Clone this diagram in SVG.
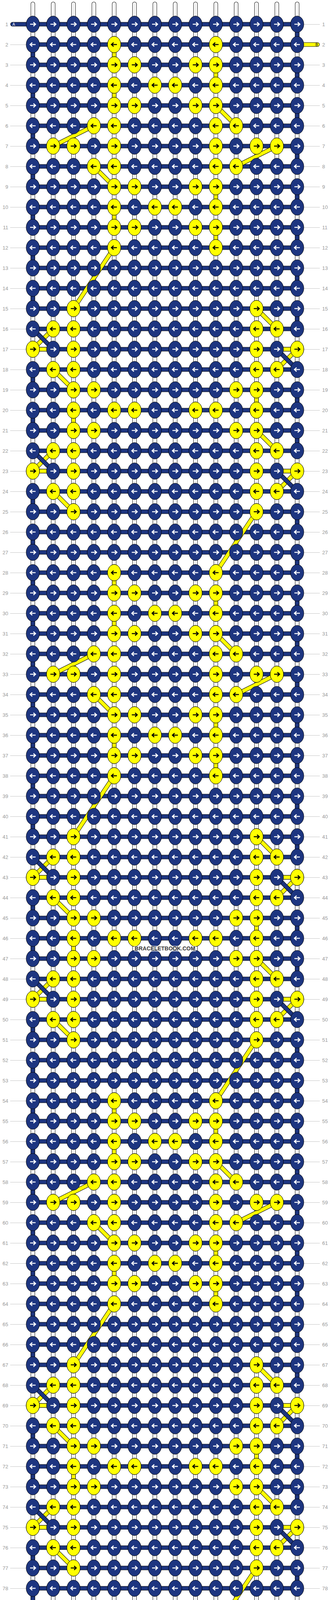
<svg xmlns="http://www.w3.org/2000/svg" width="844" height="4804" viewBox="0 0 844 4804">
<style>
.kb{fill:#1d3580;stroke:#000;stroke-width:1}
.ky{fill:#ffff00;stroke:#000;stroke-width:1}
.aw{stroke:#fff}
.ak{stroke:#000}
.num{font-family:"Liberation Sans",Arial,sans-serif;font-size:13px;fill:#999}
.st{font-family:"Liberation Sans",Arial,sans-serif;font-size:10px;text-anchor:middle}
</style>
<defs>
<path id="ar" d="M-7 0H6.5M1.5-5L7 0L1.5 5" fill="none" stroke-width="2.6"/>
<g id="bR"><ellipse rx="17" ry="21" class="kb"/><use href="#ar" class="aw"/></g>
<g id="bL"><ellipse rx="17" ry="21" class="kb"/><use href="#ar" class="aw" transform="scale(-1 1)"/></g>
<g id="yR"><ellipse rx="17" ry="21" class="ky"/><use href="#ar" class="ak"/></g>
<g id="yL"><ellipse rx="17" ry="21" class="ky"/><use href="#ar" class="ak" transform="scale(-1 1)"/></g>
<g id="rR"><use href="#bR" x="84"/><use href="#bR" x="136"/><use href="#bR" x="188"/><use href="#bR" x="240"/><use href="#bR" x="292"/><use href="#bR" x="344"/><use href="#bR" x="396"/><use href="#bR" x="448"/><use href="#bR" x="500"/><use href="#bR" x="552"/><use href="#bR" x="604"/><use href="#bR" x="656"/><use href="#bR" x="708"/><use href="#bR" x="760"/></g>
<g id="rL"><use href="#bL" x="84"/><use href="#bL" x="136"/><use href="#bL" x="188"/><use href="#bL" x="240"/><use href="#bL" x="292"/><use href="#bL" x="344"/><use href="#bL" x="396"/><use href="#bL" x="448"/><use href="#bL" x="500"/><use href="#bL" x="552"/><use href="#bL" x="604"/><use href="#bL" x="656"/><use href="#bL" x="708"/><use href="#bL" x="760"/></g>
<pattern id="lp" x="0" y="62" width="844" height="52" patternUnits="userSpaceOnUse"><rect x="26" y="0" width="58" height="1" fill="#c4c4c4"/><rect x="760" y="0" width="58" height="1" fill="#c4c4c4"/></pattern>
<pattern id="bp" x="0" y="56.5" width="844" height="52" patternUnits="userSpaceOnUse"><rect x="84" y="0" width="676" height="11" fill="#000"/><rect x="84" y="1" width="676" height="9" fill="#1d3580"/></pattern>
<path id="vs" d="M84 10V4793M136 10V4793M188 10V4793M240 10V4793M292 10V4793M344 10V4793M396 10V4793M448 10V4793M500 10V4793M552 10V4793M604 10V4793M656 10V4793M708 10V4793M760 10V4793"/>
<path id="cA" d="M292 114V166M552 166V218M292 218V270M552 270L604 322M240 322L136 374M708 374L604 426M240 426L292 478M552 478V530M292 530V582M552 582V634"/>
<path id="cP" d="M292 114V166M552 166V218M292 218V270M552 270L604 322M240 322L136 374M708 374L604 426M240 426L292 478M552 478V530M292 530V582M552 582V634M292 634L188 790M656 790L708 842M136 842L84 894M760 894L708 946M136 946L188 998M656 998V1050M188 1050V1102M656 1102L708 1154M136 1154L84 1206M760 1206L708 1258M136 1258L188 1310M656 1310L552 1466M84 894H136M708 894H760M84 1206H136M708 1206H760"/>
<path id="eb" d="M760 62v52m-676 0v52m676 0v52m-676 0v52m676 0v52m-676 0v52m676 0v52m-676 0v52m676 0v52m-676 0v52m676 0v52m-676 0v52m676 0v52m-676 0v52m676 0v52m-676 0l52 52m624 0m-52 0l52 52m-676 0v52m676 0v52m-676 0v52m676 0v52m-676 0l52 52m624 0m-52 0l52 52m-676 0v52m676 0v52m-676 0v52m676 0v52m-676 0v52m676 0v52m-676 0v52m676 0v52m-676 0v52m676 0v52m-676 0v52m676 0v52m-676 0v52m676 0v52m-676 0v52m676 0v52m-676 0v52m676 0v52m-676 0l52 52m624 0m-52 0l52 52m-676 0v52m676 0v52m-676 0v52m676 0v52m-676 0l52 52m624 0m-52 0l52 52m-676 0v52m676 0v52m-676 0v52m676 0v52m-676 0v52m676 0v52m-676 0v52m676 0v52m-676 0v52m676 0v52m-676 0v52m676 0v52m-676 0v52m676 0v52m-676 0v52m676 0v52m-676 0v52m676 0v52m-676 0l52 52m624 0m-52 0l52 52m-676 0v52m676 0v52m-676 0v52m676 0v52m-676 0l52 52m624 0m-52 0l52 52m-676 0v52m676 0v52m-676 0v52m676 0v52m-676 0v52m676 0v52m-676 0v52m676 0v52m-676 0v52m676 0v52m-676 0v52m676 0v52m-676 0v52m676 0v52m-676 0v52m676 0v52m-676 0v52m676 0"/>
<g id="mA">
<use href="#yL" x="292" y="114"/><use href="#yL" x="552" y="114"/>
<use href="#yR" x="292" y="166"/><use href="#yR" x="344" y="166"/><use href="#yR" x="500" y="166"/><use href="#yR" x="552" y="166"/>
<use href="#yL" x="292" y="218"/><use href="#yL" x="396" y="218"/><use href="#yL" x="448" y="218"/><use href="#yL" x="552" y="218"/>
<use href="#yR" x="292" y="270"/><use href="#yR" x="344" y="270"/><use href="#yR" x="500" y="270"/><use href="#yR" x="552" y="270"/>
<use href="#yL" x="240" y="322"/><use href="#yL" x="292" y="322"/><use href="#yL" x="552" y="322"/><use href="#yL" x="604" y="322"/>
<use href="#yR" x="136" y="374"/><use href="#yR" x="188" y="374"/><use href="#yR" x="292" y="374"/><use href="#yR" x="552" y="374"/><use href="#yR" x="656" y="374"/><use href="#yR" x="708" y="374"/>
<use href="#yL" x="240" y="426"/><use href="#yL" x="292" y="426"/><use href="#yL" x="552" y="426"/><use href="#yL" x="604" y="426"/>
<use href="#yR" x="292" y="478"/><use href="#yR" x="344" y="478"/><use href="#yR" x="500" y="478"/><use href="#yR" x="552" y="478"/>
<use href="#yL" x="292" y="530"/><use href="#yL" x="396" y="530"/><use href="#yL" x="448" y="530"/><use href="#yL" x="552" y="530"/>
<use href="#yR" x="292" y="582"/><use href="#yR" x="344" y="582"/><use href="#yR" x="500" y="582"/><use href="#yR" x="552" y="582"/>
<use href="#yL" x="292" y="634"/><use href="#yL" x="552" y="634"/>
</g>
<g id="mB">
<use href="#yR" x="188" y="790"/><use href="#yR" x="656" y="790"/>
<use href="#yL" x="136" y="842"/><use href="#yL" x="188" y="842"/><use href="#yL" x="656" y="842"/><use href="#yL" x="708" y="842"/>
<use href="#yR" x="84" y="894"/><use href="#yR" x="188" y="894"/><use href="#yR" x="656" y="894"/><use href="#yR" x="760" y="894"/>
<use href="#yL" x="136" y="946"/><use href="#yL" x="188" y="946"/><use href="#yL" x="656" y="946"/><use href="#yL" x="708" y="946"/>
<use href="#yR" x="188" y="998"/><use href="#yR" x="240" y="998"/><use href="#yR" x="604" y="998"/><use href="#yR" x="656" y="998"/>
<use href="#yL" x="188" y="1050"/><use href="#yL" x="292" y="1050"/><use href="#yL" x="344" y="1050"/><use href="#yL" x="500" y="1050"/><use href="#yL" x="552" y="1050"/><use href="#yL" x="656" y="1050"/>
<use href="#yR" x="188" y="1102"/><use href="#yR" x="240" y="1102"/><use href="#yR" x="604" y="1102"/><use href="#yR" x="656" y="1102"/>
<use href="#yL" x="136" y="1154"/><use href="#yL" x="188" y="1154"/><use href="#yL" x="656" y="1154"/><use href="#yL" x="708" y="1154"/>
<use href="#yR" x="84" y="1206"/><use href="#yR" x="188" y="1206"/><use href="#yR" x="656" y="1206"/><use href="#yR" x="760" y="1206"/>
<use href="#yL" x="136" y="1258"/><use href="#yL" x="188" y="1258"/><use href="#yL" x="656" y="1258"/><use href="#yL" x="708" y="1258"/>
<use href="#yR" x="188" y="1310"/><use href="#yR" x="656" y="1310"/>
</g>
</defs>
<rect width="844" height="4804" fill="#fff"/>
<g id="row-lines"><rect x="0" y="60" width="844" height="4690" fill="url(#lp)"/></g>
<g id="strings" fill="none">
<use href="#vs" stroke="#000" stroke-width="11" stroke-linecap="round"/>
<use href="#vs" stroke="#fff" stroke-width="9" stroke-linecap="round"/>
<use href="#vs" stroke="#c8c8c8" stroke-width="1"/>
</g>
<g id="bands"><rect x="0" y="56" width="844" height="4692" fill="url(#bp)"/></g>
<g id="connectors" fill="none">
<g stroke="#000" stroke-width="11"><use href="#cP"/><use href="#cP" y="1352"/><use href="#cP" y="2704"/><use href="#cA" y="4056"/></g>
<g stroke="#ffff00" stroke-width="9"><use href="#cP"/><use href="#cP" y="1352"/><use href="#cP" y="2704"/><use href="#cA" y="4056"/></g>
<use href="#eb" stroke="#000" stroke-width="11"/>
<use href="#eb" stroke="#1d3580" stroke-width="9"/>
<path d="M32 62H84M760 4742H812" stroke="#000" stroke-width="11" stroke-linecap="round"/>
<path d="M32 62H84M760 4742H812" stroke="#1d3580" stroke-width="9" stroke-linecap="round"/>
<path d="M760 114H812M32 4690H84" stroke="#000" stroke-width="11" stroke-linecap="round"/>
<path d="M760 114H812M32 4690H84" stroke="#ffff00" stroke-width="9" stroke-linecap="round"/>
</g>
<g id="knots">
<use href="#rR" y="62"/><use href="#rL" y="114"/><use href="#rR" y="166"/><use href="#rL" y="218"/><use href="#rR" y="270"/><use href="#rL" y="322"/><use href="#rR" y="374"/><use href="#rL" y="426"/><use href="#rR" y="478"/><use href="#rL" y="530"/>
<use href="#rR" y="582"/><use href="#rL" y="634"/><use href="#rR" y="686"/><use href="#rL" y="738"/><use href="#rR" y="790"/><use href="#rL" y="842"/><use href="#rR" y="894"/><use href="#rL" y="946"/><use href="#rR" y="998"/><use href="#rL" y="1050"/>
<use href="#rR" y="1102"/><use href="#rL" y="1154"/><use href="#rR" y="1206"/><use href="#rL" y="1258"/><use href="#rR" y="1310"/><use href="#rL" y="1362"/><use href="#rR" y="1414"/><use href="#rL" y="1466"/><use href="#rR" y="1518"/><use href="#rL" y="1570"/>
<use href="#rR" y="1622"/><use href="#rL" y="1674"/><use href="#rR" y="1726"/><use href="#rL" y="1778"/><use href="#rR" y="1830"/><use href="#rL" y="1882"/><use href="#rR" y="1934"/><use href="#rL" y="1986"/><use href="#rR" y="2038"/><use href="#rL" y="2090"/>
<use href="#rR" y="2142"/><use href="#rL" y="2194"/><use href="#rR" y="2246"/><use href="#rL" y="2298"/><use href="#rR" y="2350"/><use href="#rL" y="2402"/><use href="#rR" y="2454"/><use href="#rL" y="2506"/><use href="#rR" y="2558"/><use href="#rL" y="2610"/>
<use href="#rR" y="2662"/><use href="#rL" y="2714"/><use href="#rR" y="2766"/><use href="#rL" y="2818"/><use href="#rR" y="2870"/><use href="#rL" y="2922"/><use href="#rR" y="2974"/><use href="#rL" y="3026"/><use href="#rR" y="3078"/><use href="#rL" y="3130"/>
<use href="#rR" y="3182"/><use href="#rL" y="3234"/><use href="#rR" y="3286"/><use href="#rL" y="3338"/><use href="#rR" y="3390"/><use href="#rL" y="3442"/><use href="#rR" y="3494"/><use href="#rL" y="3546"/><use href="#rR" y="3598"/><use href="#rL" y="3650"/>
<use href="#rR" y="3702"/><use href="#rL" y="3754"/><use href="#rR" y="3806"/><use href="#rL" y="3858"/><use href="#rR" y="3910"/><use href="#rL" y="3962"/><use href="#rR" y="4014"/><use href="#rL" y="4066"/><use href="#rR" y="4118"/><use href="#rL" y="4170"/>
<use href="#rR" y="4222"/><use href="#rL" y="4274"/><use href="#rR" y="4326"/><use href="#rL" y="4378"/><use href="#rR" y="4430"/><use href="#rL" y="4482"/><use href="#rR" y="4534"/><use href="#rL" y="4586"/><use href="#rR" y="4638"/><use href="#rL" y="4690"/>
<use href="#rR" y="4742"/>
<use href="#mA"/><use href="#mA" y="1352"/><use href="#mA" y="2704"/><use href="#mA" y="4056"/>
<use href="#mB"/><use href="#mB" y="1352"/><use href="#mB" y="2704"/>
</g>
<g id="labels">
<text class="st" x="35" y="66" fill="#fff">A</text>
<text class="st" x="810" y="4746" fill="#fff">A</text>
<text class="st" x="810" y="118" fill="#000">B</text>
<text class="st" x="34" y="4694" fill="#000">B</text>
<text class="num" text-anchor="end"><tspan x="21" y="66.5">1</tspan><tspan x="21" y="118.5">2</tspan><tspan x="21" y="170.5">3</tspan><tspan x="21" y="222.5">4</tspan><tspan x="21" y="274.5">5</tspan><tspan x="21" y="326.5">6</tspan><tspan x="21" y="378.5">7</tspan><tspan x="21" y="430.5">8</tspan><tspan x="21" y="482.5">9</tspan><tspan x="21" y="534.5">10</tspan><tspan x="21" y="586.5">11</tspan><tspan x="21" y="638.5">12</tspan><tspan x="21" y="690.5">13</tspan><tspan x="21" y="742.5">14</tspan><tspan x="21" y="794.5">15</tspan><tspan x="21" y="846.5">16</tspan><tspan x="21" y="898.5">17</tspan><tspan x="21" y="950.5">18</tspan><tspan x="21" y="1002.5">19</tspan><tspan x="21" y="1054.5">20</tspan><tspan x="21" y="1106.5">21</tspan><tspan x="21" y="1158.5">22</tspan><tspan x="21" y="1210.5">23</tspan><tspan x="21" y="1262.5">24</tspan><tspan x="21" y="1314.5">25</tspan><tspan x="21" y="1366.5">26</tspan><tspan x="21" y="1418.5">27</tspan><tspan x="21" y="1470.5">28</tspan><tspan x="21" y="1522.5">29</tspan><tspan x="21" y="1574.5">30</tspan><tspan x="21" y="1626.5">31</tspan><tspan x="21" y="1678.5">32</tspan><tspan x="21" y="1730.5">33</tspan><tspan x="21" y="1782.5">34</tspan><tspan x="21" y="1834.5">35</tspan><tspan x="21" y="1886.5">36</tspan><tspan x="21" y="1938.5">37</tspan><tspan x="21" y="1990.5">38</tspan><tspan x="21" y="2042.5">39</tspan><tspan x="21" y="2094.5">40</tspan><tspan x="21" y="2146.5">41</tspan><tspan x="21" y="2198.5">42</tspan><tspan x="21" y="2250.5">43</tspan><tspan x="21" y="2302.5">44</tspan><tspan x="21" y="2354.5">45</tspan><tspan x="21" y="2406.5">46</tspan><tspan x="21" y="2458.5">47</tspan><tspan x="21" y="2510.5">48</tspan><tspan x="21" y="2562.5">49</tspan><tspan x="21" y="2614.5">50</tspan><tspan x="21" y="2666.5">51</tspan><tspan x="21" y="2718.5">52</tspan><tspan x="21" y="2770.5">53</tspan><tspan x="21" y="2822.5">54</tspan><tspan x="21" y="2874.5">55</tspan><tspan x="21" y="2926.5">56</tspan><tspan x="21" y="2978.5">57</tspan><tspan x="21" y="3030.5">58</tspan><tspan x="21" y="3082.5">59</tspan><tspan x="21" y="3134.5">60</tspan><tspan x="21" y="3186.5">61</tspan><tspan x="21" y="3238.5">62</tspan><tspan x="21" y="3290.5">63</tspan><tspan x="21" y="3342.5">64</tspan><tspan x="21" y="3394.5">65</tspan><tspan x="21" y="3446.5">66</tspan><tspan x="21" y="3498.5">67</tspan><tspan x="21" y="3550.5">68</tspan><tspan x="21" y="3602.5">69</tspan><tspan x="21" y="3654.5">70</tspan><tspan x="21" y="3706.5">71</tspan><tspan x="21" y="3758.5">72</tspan><tspan x="21" y="3810.5">73</tspan><tspan x="21" y="3862.5">74</tspan><tspan x="21" y="3914.5">75</tspan><tspan x="21" y="3966.5">76</tspan><tspan x="21" y="4018.5">77</tspan><tspan x="21" y="4070.5">78</tspan><tspan x="21" y="4122.5">79</tspan><tspan x="21" y="4174.5">80</tspan><tspan x="21" y="4226.5">81</tspan><tspan x="21" y="4278.5">82</tspan><tspan x="21" y="4330.5">83</tspan><tspan x="21" y="4382.5">84</tspan><tspan x="21" y="4434.5">85</tspan><tspan x="21" y="4486.5">86</tspan><tspan x="21" y="4538.5">87</tspan><tspan x="21" y="4590.5">88</tspan><tspan x="21" y="4642.5">89</tspan><tspan x="21" y="4694.5">90</tspan><tspan x="21" y="4746.5">91</tspan></text>
<text class="num"><tspan x="824" y="66.5">1</tspan><tspan x="824" y="118.5">2</tspan><tspan x="824" y="170.5">3</tspan><tspan x="824" y="222.5">4</tspan><tspan x="824" y="274.5">5</tspan><tspan x="824" y="326.5">6</tspan><tspan x="824" y="378.5">7</tspan><tspan x="824" y="430.5">8</tspan><tspan x="824" y="482.5">9</tspan><tspan x="824" y="534.5">10</tspan><tspan x="824" y="586.5">11</tspan><tspan x="824" y="638.5">12</tspan><tspan x="824" y="690.5">13</tspan><tspan x="824" y="742.5">14</tspan><tspan x="824" y="794.5">15</tspan><tspan x="824" y="846.5">16</tspan><tspan x="824" y="898.5">17</tspan><tspan x="824" y="950.5">18</tspan><tspan x="824" y="1002.5">19</tspan><tspan x="824" y="1054.5">20</tspan><tspan x="824" y="1106.5">21</tspan><tspan x="824" y="1158.5">22</tspan><tspan x="824" y="1210.5">23</tspan><tspan x="824" y="1262.5">24</tspan><tspan x="824" y="1314.5">25</tspan><tspan x="824" y="1366.5">26</tspan><tspan x="824" y="1418.5">27</tspan><tspan x="824" y="1470.5">28</tspan><tspan x="824" y="1522.5">29</tspan><tspan x="824" y="1574.5">30</tspan><tspan x="824" y="1626.5">31</tspan><tspan x="824" y="1678.5">32</tspan><tspan x="824" y="1730.5">33</tspan><tspan x="824" y="1782.5">34</tspan><tspan x="824" y="1834.5">35</tspan><tspan x="824" y="1886.5">36</tspan><tspan x="824" y="1938.5">37</tspan><tspan x="824" y="1990.5">38</tspan><tspan x="824" y="2042.5">39</tspan><tspan x="824" y="2094.5">40</tspan><tspan x="824" y="2146.5">41</tspan><tspan x="824" y="2198.5">42</tspan><tspan x="824" y="2250.5">43</tspan><tspan x="824" y="2302.5">44</tspan><tspan x="824" y="2354.5">45</tspan><tspan x="824" y="2406.5">46</tspan><tspan x="824" y="2458.5">47</tspan><tspan x="824" y="2510.5">48</tspan><tspan x="824" y="2562.5">49</tspan><tspan x="824" y="2614.5">50</tspan><tspan x="824" y="2666.5">51</tspan><tspan x="824" y="2718.5">52</tspan><tspan x="824" y="2770.5">53</tspan><tspan x="824" y="2822.5">54</tspan><tspan x="824" y="2874.5">55</tspan><tspan x="824" y="2926.5">56</tspan><tspan x="824" y="2978.5">57</tspan><tspan x="824" y="3030.5">58</tspan><tspan x="824" y="3082.5">59</tspan><tspan x="824" y="3134.5">60</tspan><tspan x="824" y="3186.5">61</tspan><tspan x="824" y="3238.5">62</tspan><tspan x="824" y="3290.5">63</tspan><tspan x="824" y="3342.5">64</tspan><tspan x="824" y="3394.5">65</tspan><tspan x="824" y="3446.5">66</tspan><tspan x="824" y="3498.5">67</tspan><tspan x="824" y="3550.5">68</tspan><tspan x="824" y="3602.5">69</tspan><tspan x="824" y="3654.5">70</tspan><tspan x="824" y="3706.5">71</tspan><tspan x="824" y="3758.5">72</tspan><tspan x="824" y="3810.5">73</tspan><tspan x="824" y="3862.5">74</tspan><tspan x="824" y="3914.5">75</tspan><tspan x="824" y="3966.5">76</tspan><tspan x="824" y="4018.5">77</tspan><tspan x="824" y="4070.5">78</tspan><tspan x="824" y="4122.5">79</tspan><tspan x="824" y="4174.5">80</tspan><tspan x="824" y="4226.5">81</tspan><tspan x="824" y="4278.5">82</tspan><tspan x="824" y="4330.5">83</tspan><tspan x="824" y="4382.5">84</tspan><tspan x="824" y="4434.5">85</tspan><tspan x="824" y="4486.5">86</tspan><tspan x="824" y="4538.5">87</tspan><tspan x="824" y="4590.5">88</tspan><tspan x="824" y="4642.5">89</tspan><tspan x="824" y="4694.5">90</tspan><tspan x="824" y="4746.5">91</tspan></text>
</g>
<g id="watermark">
<rect x="343" y="2421" width="158" height="15" fill="#fff" opacity="0.55"/>
<text x="422" y="2433" font-family="'Liberation Sans',Arial,sans-serif" font-weight="bold" font-size="14" fill="#3a3a3a" text-anchor="middle">BRACELETBOOK.COM</text>
</g>
</svg>
